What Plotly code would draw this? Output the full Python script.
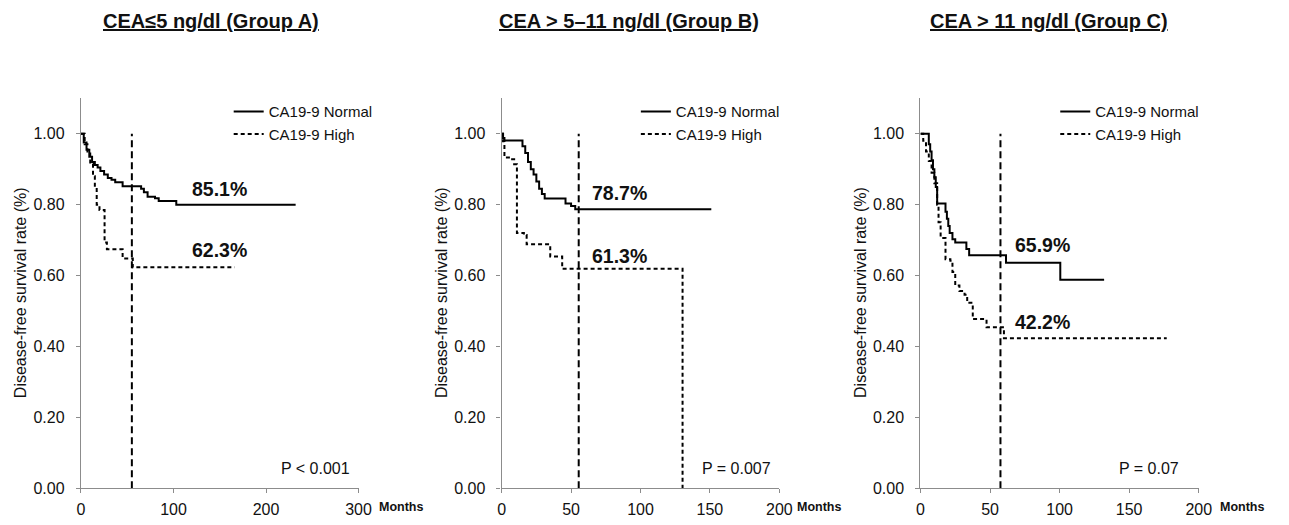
import plotly.graph_objects as go

# ---------------- data ----------------
panel_titles = ["CEA≤5 ng/dl (Group A)", "CEA > 5–11 ng/dl (Group B)", "CEA > 11 ng/dl (Group C)"]
series_names = ["CA19-9 Normal", "CA19-9 High"]

months_A_normal = [0, 3, 6, 9, 12, 15, 18, 21, 25, 29, 33, 37, 45, 65, 68, 72, 80, 84, 103, 232]
surv_A_normal = [1.0, 0.975, 0.955, 0.935, 0.92, 0.912, 0.905, 0.895, 0.885, 0.875, 0.87, 0.863,
                 0.852, 0.845, 0.835, 0.822, 0.818, 0.81, 0.80, 0.80]
months_A_high = [0, 4, 7, 10, 13, 15, 17, 20, 25.5, 28, 45, 56, 166]
surv_A_high = [1.0, 0.97, 0.95, 0.915, 0.88, 0.85, 0.80, 0.785, 0.693, 0.674, 0.648, 0.623, 0.623]

months_B_normal = [0, 1, 2, 15, 17, 19, 21, 23, 25, 27, 29, 31, 46, 50, 53, 151]
surv_B_normal = [1.0, 0.988, 0.981, 0.965, 0.946, 0.92, 0.90, 0.885, 0.865, 0.845, 0.83, 0.817,
                 0.803, 0.796, 0.787, 0.787]
months_B_high = [0, 1, 2, 6.5, 9, 11, 16, 18, 35, 43.6, 130.3]
surv_B_high = [1.0, 0.979, 0.933, 0.928, 0.914, 0.72, 0.714, 0.688, 0.654, 0.619, 0.0]

months_C_normal = [0, 6, 7, 8, 9, 10, 11, 12, 18, 19, 20, 21, 23, 25, 33, 35, 61.5, 100.5, 132]
surv_C_normal = [1.0, 0.97, 0.95, 0.925, 0.90, 0.877, 0.85, 0.803, 0.78, 0.76, 0.74, 0.72, 0.702,
                 0.693, 0.675, 0.657, 0.636, 0.588, 0.588]
months_C_high = [0, 2, 4, 6, 8, 10, 12, 13, 14.5, 18, 21.5, 23, 25, 28, 31.7, 33.6, 37.6, 47.5, 60, 177]
surv_C_high = [1.0, 0.98, 0.95, 0.923, 0.89, 0.86, 0.80, 0.75, 0.706, 0.646, 0.642, 0.61, 0.572,
               0.556, 0.546, 0.523, 0.477, 0.454, 0.423, 0.423]

landmark_months = [55, 55.5, 57.5]
pct_normal = ["85.1%", "78.7%", "65.9%"]
pct_high = ["62.3%", "61.3%", "42.2%"]
pct_x = [150, 84.6, 88]
pct_normal_y = [0.843, 0.832, 0.685]
pct_high_y = [0.671, 0.655, 0.468]
p_values = ["P < 0.001", "P = 0.007", "P = 0.07"]
p_x = [253.7, 169, 164]
p_y = 0.055

x_max = [300, 200, 200]
x_ticks = [[0, 100, 200, 300], [0, 50, 100, 150, 200], [0, 50, 100, 150, 200]]
y_ticks = [0.0, 0.2, 0.4, 0.6, 0.8, 1.0]

# ---------------- layout geometry ----------------
W, H = 1289, 525
FONT = "Liberation Sans, Arial, sans-serif"
x_dom_px = [(78, 359.3), (504.3, 785.7), (928.7, 1210.7)]
y_dom_px = (100, 496.7)  # top, bottom
ytitle_px = [17.5, 444, 868.5]
months_px = [402.5, 825.5, 1255]
title_px = [210, 633, 1059]
legend_px = [227.7, 640.3, 1065.3]

def px_x(v):
    return v / W

def px_y(v):
    return 1 - v / H

panels = [
    (months_A_normal, surv_A_normal, months_A_high, surv_A_high),
    (months_B_normal, surv_B_normal, months_B_high, surv_B_high),
    (months_C_normal, surv_C_normal, months_C_high, surv_C_high),
]

fig = go.Figure()
annotations = []
axis_common = dict(showgrid=False, zeroline=False, showline=True, linecolor="#8c8c8c",
                   linewidth=1.3, ticks="outside", ticklen=4, tickcolor="#8c8c8c",
                   tickfont=dict(family=FONT, size=16, color="#111"))

def note(text, x, y, xref, yref, size, **kw):
    return dict(text=text, x=x, y=y, xref=xref, yref=yref, showarrow=False,
                xanchor="center", yanchor="middle",
                font=dict(family=FONT, size=size, color="#111"), **kw)

for i, (mn, sn, mh, sh) in enumerate(panels):
    k = "" if i == 0 else str(i + 1)
    xa, ya = "x" + k, "y" + k
    leg = "legend" + k
    fig.add_trace(go.Scatter(x=mn, y=sn, mode="lines", line=dict(color="black", width=2, shape="hv"),
                             name=series_names[0], xaxis=xa, yaxis=ya, legend=leg,
                             legendgroup=f"g{i}", showlegend=True))
    fig.add_trace(go.Scatter(x=mh, y=sh, mode="lines",
                             line=dict(color="black", width=2, shape="hv", dash="4px,3px"),
                             name=series_names[1], xaxis=xa, yaxis=ya, legend=leg,
                             legendgroup=f"g{i}", showlegend=True))
    fig.add_trace(go.Scatter(x=[landmark_months[i], landmark_months[i]], y=[0, 1.0], mode="lines",
                             line=dict(color="black", width=2, dash="7px,4px"),
                             xaxis=xa, yaxis=ya, showlegend=False, hoverinfo="skip"))

    fig.layout["xaxis" + k] = dict(axis_common, domain=[px_x(x_dom_px[i][0]), px_x(x_dom_px[i][1])],
                                   range=[0, x_max[i]], tickvals=x_ticks[i], anchor=ya,
                                   ticklabelstandoff=2)
    fig.layout["yaxis" + k] = dict(axis_common, domain=[px_y(y_dom_px[1]), px_y(y_dom_px[0])],
                                   range=[0, 1.1], tickvals=y_ticks, tickformat=".2f", anchor=xa,
                                   ticklabelstandoff=8)
    fig.layout[leg] = dict(x=px_x(legend_px[i]), y=px_y(97), xanchor="left", yanchor="top",
                           bgcolor="rgba(0,0,0,0)", font=dict(family=FONT, size=15, color="#111"),
                           itemwidth=30, tracegroupgap=0)

    annotations += [
        note(f"<b>{pct_normal[i]}</b>", pct_x[i], pct_normal_y[i], xa, ya, 19.5),
        note(f"<b>{pct_high[i]}</b>", pct_x[i], pct_high_y[i], xa, ya, 19.5),
        note(p_values[i], p_x[i], p_y, xa, ya, 16),
        note("<b>Months</b>", px_x(months_px[i]), px_y(516), "paper", "paper", 12.5),
        note("Disease-free survival rate (%)", px_x(ytitle_px[i]), px_y(298), "paper", "paper", 16,
             textangle=-90),
        note(f"<u><b>{panel_titles[i]}</b></u>", px_x(title_px[i]), px_y(21.5), "paper", "paper", 20),
    ]

fig.update_layout(width=W, height=H, margin=dict(l=0, r=0, t=0, b=0),
                  plot_bgcolor="white", paper_bgcolor="white", annotations=annotations)

fig.write_html("out.html", config={"displayModeBar": False},
               post_script="document.body.style.margin='0';document.body.style.overflow='hidden';")
